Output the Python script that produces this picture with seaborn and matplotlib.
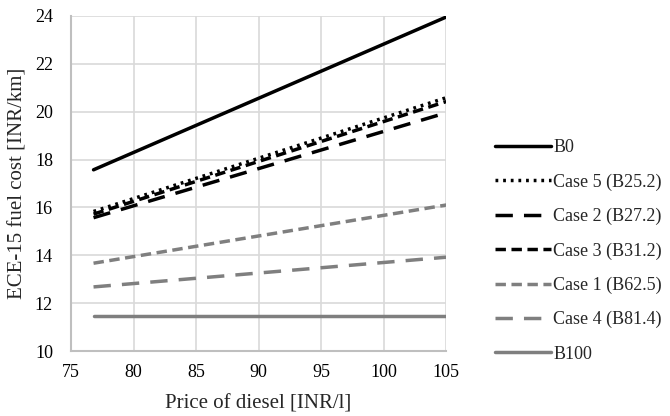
import matplotlib
matplotlib.use("Agg")
import matplotlib.pyplot as plt
import seaborn as sns
import pandas as pd

# Diesel price range (INR/l) and fuel cost per km at each end (INR/km)
diesel_price = [76.8, 105.0]
series_names = ["B0", "Case 5 (B25.2)", "Case 2 (B27.2)", "Case 3 (B31.2)",
                "Case 1 (B62.5)", "Case 4 (B81.4)", "B100"]
b0 = [17.57, 23.95]
case5 = [15.83, 20.58]
case2 = [15.57, 19.95]
case3 = [15.72, 20.42]
case1 = [13.67, 16.10]
case4 = [12.68, 13.92]
b100 = [11.45, 11.45]

values = [b0, case5, case2, case3, case1, case4, b100]
rows = []
for name, ys in zip(series_names, values):
    for x, y in zip(diesel_price, ys):
        rows.append({"series": name, "price": x, "cost": y})
df = pd.DataFrame(rows)

black, grey = "#000000", "#7f7f7f"
palette = {"B0": black, "Case 5 (B25.2)": black, "Case 2 (B27.2)": black,
           "Case 3 (B31.2)": black, "Case 1 (B62.5)": grey,
           "Case 4 (B81.4)": grey, "B100": grey}
dashes = {"B0": "", "Case 5 (B25.2)": (0.8, 1.4), "Case 2 (B27.2)": (5.0, 3.2),
          "Case 3 (B31.2)": (3.0, 1.6), "Case 1 (B62.5)": (3.0, 1.6),
          "Case 4 (B81.4)": (5.0, 3.2), "B100": ""}

sns.set_theme(style="white")
plt.rcParams["font.family"] = ["Liberation Serif", "DejaVu Serif"]

fig = plt.figure(figsize=(6.7, 4.16), dpi=100)
ax = fig.add_axes([0.106, 0.156, 0.56, 0.806])

sns.lineplot(data=df, x="price", y="cost", hue="series", style="series",
             hue_order=series_names, style_order=series_names,
             palette=palette, dashes=dashes, linewidth=2.5, legend=False, ax=ax)

ax.set_xlim(75, 105)
ax.set_ylim(10, 24)
ax.set_xticks(range(75, 106, 5))
ax.set_yticks(range(10, 25, 2))
ax.grid(True, color="#d9d9d9", linewidth=1.2)
for side in ["top", "right"]:
    ax.spines[side].set_visible(False)
for side in ["left", "bottom"]:
    ax.spines[side].set_color("#bfbfbf")
    ax.spines[side].set_linewidth(1.5)
ax.tick_params(axis="both", length=0, labelsize=13, colors="#000000")
ax.tick_params(axis="x", pad=9)
ax.tick_params(axis="y", pad=13)
ax.set_xlabel("Price of diesel [INR/l]", fontsize=15, labelpad=10)
ax.set_ylabel("ECE-15 fuel cost [INR/km]", fontsize=15, labelpad=5)

ax.legend(handles=ax.get_lines()[:len(series_names)], labels=series_names,
          loc="center left", bbox_to_anchor=(0.714, 0.397),
          bbox_transform=fig.transFigure, frameon=False, fontsize=13,
          handlelength=3.1, handletextpad=0.15, labelspacing=0.95)

fig.savefig("out.png", dpi=100)
